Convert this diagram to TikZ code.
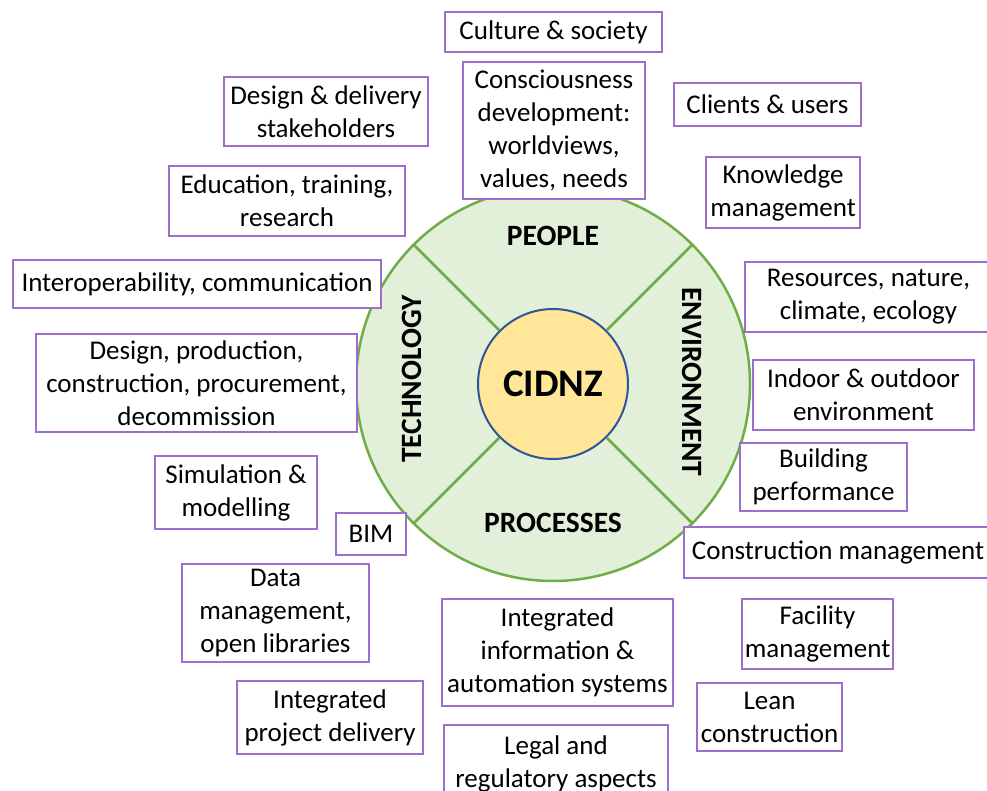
\documentclass[tikz,border=0pt]{standalone}
\usepackage{fontspec}
\setmainfont{Carlito}
\definecolor{boxpurple}{RGB}{158,110,205}
\definecolor{ringgreen}{RGB}{112,173,71}
\definecolor{ringfill}{RGB}{226,240,217}
\definecolor{hubfill}{RGB}{255,230,153}
\definecolor{hubblue}{RGB}{47,85,151}

\begin{document}
\begin{tikzpicture}[
        x=1pt, y=-1pt,
        every node/.style={font=\fontsize{27}{33}\selectfont},
        box/.style 2 args={
            draw=boxpurple,
            fill=white,
            line width=1.5pt,
            align=center,
            minimum width=#1,
            minimum height=#2,
            inner sep=2pt
        },
        sector/.style={font=\fontsize{29.5}{33}\selectfont\bfseries},
        divider/.style={draw=ringgreen, line width=2.5pt}
    ]

    \useasboundingbox (0,0) rectangle (987,791);

    % Ring with the four sectors
    \node[circle, draw=ringgreen, fill=ringfill, line width=2.5pt,
          minimum size=394pt, inner sep=0pt] (ring) at (553,384) {};
    \node[circle, draw=hubblue, fill=hubfill, line width=2pt,
          minimum size=150pt, inner sep=0pt,
          font=\fontsize{39}{44}\selectfont\bfseries] (hub) at (553,384) {CIDNZ};

    \foreach \a in {45,135,225,315}
        \draw[divider] (hub.\a) -- (ring.\a);

    \node[sector] (people) at (553,236) {PEOPLE};
    \node[sector, rotate=90] (tech) at (412,379) {TECHNOLOGY};
    \node[sector, rotate=-90] (env) at (692,382) {ENVIRONMENT};
    \node[sector] (proc) at (553,523) {PROCESSES};

    % People side
    \node[box={217pt}{40pt}] (culture) at (553.5,32) {Culture \& society};
    \node[box={182pt}{137pt}] (conscious) at (554,130.5) {Consciousness\\development:\\worldviews,\\values, needs};
    \node[box={187pt}{43pt}] (clients) at (767.5,104.5) {Clients \& users};
    \node[box={154pt}{71pt}] (knowledge) at (783,192.5) {Knowledge\\management};
    \node[box={204pt}{69pt}] (stakeholders) at (326,111.5) {Design \& delivery\\stakeholders};
    \node[box={236pt}{70pt}] (education) at (287,201) {Education, training,\\research};

    % Technology side
    \node[box={368pt}{48pt}] (interop) at (197,284) {Interoperability, communication};
    \node[box={321pt}{98pt}] (design) at (196.5,383) {Design, production,\\construction, procurement,\\decommission};
    \node[box={162pt}{73pt}] (simulation) at (236,492.5) {Simulation \&\\modelling};
    \node[box={70pt}{42pt}] (bim) at (371,534) {BIM};
    \node[box={187pt}{98pt}] (data) at (275.5,613) {Data\\management,\\open libraries};
    \node[box={186pt}{73pt}] (ipd) at (330,717.5) {Integrated\\project delivery};

    % Environment side
    \node[box={247pt}{70pt}] (resources) at (868.5,297) {Resources, nature,\\climate, ecology};
    \node[box={221pt}{70pt}] (indoor) at (863.5,395) {Indoor \& outdoor\\environment};
    \node[box={167pt}{68pt}] (building) at (823.5,477) {Building\\performance};

    % Processes side
    \node[box={308pt}{51pt}] (constmgmt) at (838,552.5) {Construction management};
    \node[box={151pt}{70pt}] (facility) at (817.5,634) {Facility\\management};
    \node[box={145pt}{68pt}] (lean) at (769.5,717) {Lean\\construction};
    \node[box={231pt}{107pt}] (infosys) at (557.5,652.5) {Integrated\\information \&\\automation systems};
    \node[box={224pt}{77pt}] (legal) at (556,763.5) {Legal and\\regulatory aspects};

\end{tikzpicture}
\end{document}
